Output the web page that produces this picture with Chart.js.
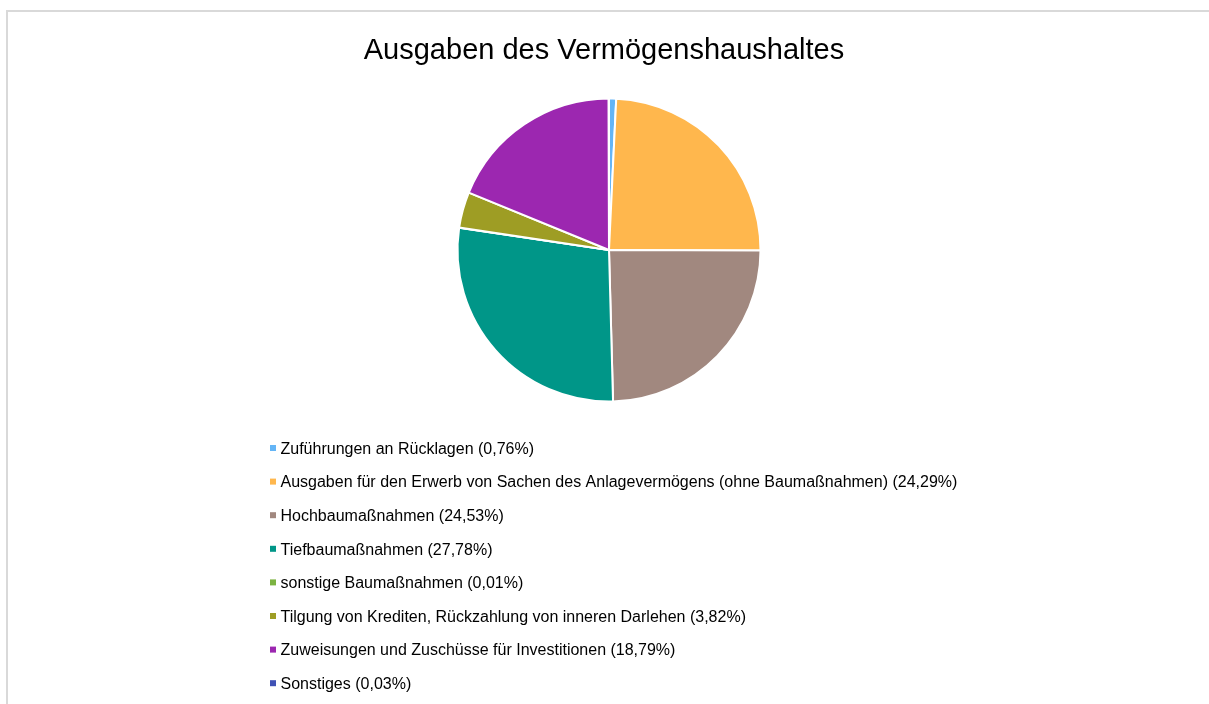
<!DOCTYPE html>
<html>
  <head>
    <meta charset="utf-8">
    <title>Ausgaben des Vermögenshaushaltes</title>
    <style>
      body { margin: 0; background: #fff; overflow: hidden; }
      #frame { position: absolute; left: 6px; top: 10px; width: 1300px; height: 800px;
               border: 2px solid #d9d9d9; }
      #myChart { position: absolute; left: 0; top: 0; }
    </style>
  </head>
  <body>
    <div id="frame"></div>
    <canvas id="myChart" width="1209" height="704"></canvas>
  </body>
  <script src="https://cdn.jsdelivr.net/npm/chart.js@4/dist/chart.umd.min.js"></script>
  <script type="text/javascript">

  const chartTitle = 'Ausgaben des Vermögenshaushaltes';
  const categories = [
    'Zuführungen an Rücklagen',
    'Ausgaben für den Erwerb von Sachen des Anlagevermögens (ohne Baumaßnahmen)',
    'Hochbaumaßnahmen',
    'Tiefbaumaßnahmen',
    'sonstige Baumaßnahmen',
    'Tilgung von Krediten, Rückzahlung von inneren Darlehen',
    'Zuweisungen und Zuschüsse für Investitionen',
    'Sonstiges'
  ];
  // shares in percent
  const shares = [0.76, 24.29, 24.53, 27.78, 0.01, 3.82, 18.79, 0.03];
  const colors = ['#64B5F6', '#FFB74D', '#A1887F', '#009688', '#7CB342', '#9E9D24', '#9C27B0', '#3F51B5'];

  const FONT = "'Liberation Sans', Arial, sans-serif";

  function pct(v) {
    return v.toFixed(2).replace('.', ',') + '%';
  }

  // title and the one-per-line legend underneath the pie
  const overlay = {
    id: 'overlay',
    afterDraw(chart) {
      const ctx = chart.ctx;
      ctx.save();
      ctx.fillStyle = '#000';
      ctx.textBaseline = 'alphabetic';
      ctx.textAlign = 'center';
      ctx.font = '29px ' + FONT;
      ctx.fillText(chartTitle, 604, 59);

      ctx.textAlign = 'left';
      ctx.font = '16px ' + FONT;
      const ds = chart.data.datasets[0];
      chart.data.labels.forEach((label, i) => {
        const y = 453.7 + i * 33.6;
        ctx.fillStyle = ds.backgroundColor[i];
        ctx.fillRect(270, y - 8.7, 6, 6);
        ctx.fillStyle = '#000';
        ctx.fillText(label + ' (' + pct(ds.data[i]) + ')', 280.5, y);
      });
      ctx.restore();
    }
  };

  var ctx = document.getElementById('myChart').getContext('2d');
  var chart = new Chart(ctx, {
    type: 'pie',
    data: {
      labels: categories,
      datasets: [{
        data: shares,
        backgroundColor: colors,
        borderColor: '#ffffff',
        borderWidth: 2
      }]
    },
    options: {
      responsive: false,
      animation: false,
      devicePixelRatio: 1,
      layout: { padding: { top: 97.5, bottom: 301.5, left: 9, right: 0 } },
      plugins: {
        legend: { display: false },
        tooltip: { enabled: false }
      }
    },
    plugins: [overlay]
  });
  </script>
</html>
